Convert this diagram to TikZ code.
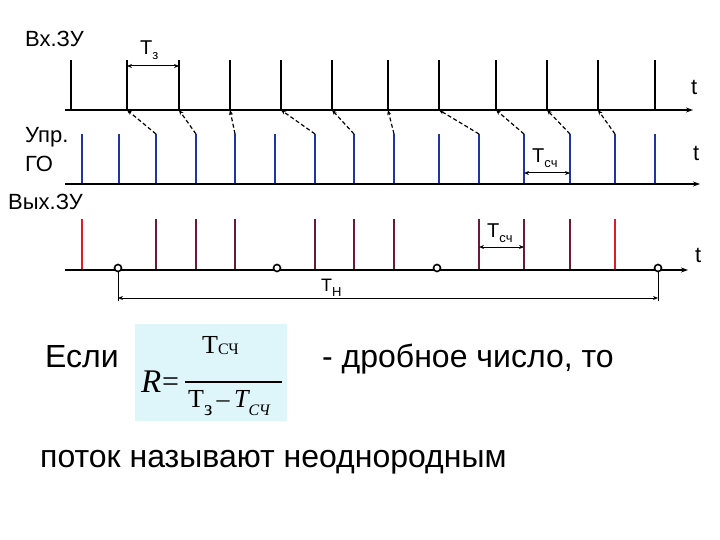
\documentclass[tikz,border=0pt]{standalone}
\usepackage{amsmath}
\usepackage{fontspec}
\setmainfont{Liberation Sans}
\newfontfamily\formfont{Liberation Serif}
\usetikzlibrary{positioning}
\usetikzlibrary{calc}
\usetikzlibrary{arrows.meta}
\definecolor{goblue}{RGB}{30,55,160}
\definecolor{outred}{RGB}{220,30,35}
\definecolor{outdark}{RGB}{105,25,60}
\definecolor{boxcyan}{RGB}{222,246,250}
\newcommand{\lowidx}[1]{\raisebox{-5pt}{\fontsize{13}{13}\selectfont #1}}
\newcommand{\fsub}[2]{\raisebox{#1}{\fontsize{16}{16}\selectfont #2}}

\begin{document}
\begin{tikzpicture}[x=1pt, y=-1pt,
            axis/.style={line width=1.8pt, -{Stealth[length=7pt, width=5pt]}},
            inpulse/.style={line width=1.5pt},
            gopulse/.style={line width=1.5pt, goblue},
            outpulse/.style={line width=1.5pt, outdark},
            link/.style={dash pattern=on 4pt off 2.5pt, line width=1.2pt, -{Stealth[length=5pt, width=4pt]}},
            dim/.style={line width=1pt, {Stealth[length=5pt, width=4pt]}-{Stealth[length=5pt, width=4pt]}},
            lbl/.style={anchor=base west, inner sep=0pt, font=\fontsize{22}{26}\selectfont},
            big/.style={anchor=base west, inner sep=0pt, font=\fontsize{32}{38}\selectfont},
            ftext/.style={anchor=base west, inner sep=0pt, font=\formfont\fontsize{26}{30}\selectfont},
            dot/.style={draw, circle, fill=white, line width=1.6pt, inner sep=0pt, minimum size=7pt},
            fbox/.style={fill=boxcyan, minimum width=152pt, minimum height=97pt, inner sep=0pt}]
            \useasboundingbox (0,0) rectangle (720,540);

            \coordinate (ax1s) at (65,110);
            \coordinate (ax1e) at (693,110);
            \coordinate (ax2s) at (65,184);
            \coordinate (ax2e) at (700,184);
            \coordinate (ax3s) at (65,270);
            \coordinate (ax3e) at (688,270);

            \foreach \x [count=\i] in {71,127,179,230,281,332,388,439,496,547,598,655} {
                \coordinate (a\i) at (\x,110);
                \coordinate (at\i) at (\x,60);
                \draw[inpulse] (a\i) -- (at\i);
            }
            \draw[inpulse, line width=2.4pt] (a2) -- (at2);

            \foreach \x [count=\i] in {82,119,156,196,235,275,315,354,394,439,479,524,570,615,655} {
                \coordinate (b\i) at (\x,184);
                \coordinate (bt\i) at (\x,134);
                \draw[gopulse] (b\i) -- (bt\i);
            }

            \foreach \x [count=\i] in {82,156,196,235,315,354,394,479,524,570,615} {
                \coordinate (o\i) at (\x,270);
                \coordinate (ot\i) at (\x,219);
                \draw[outpulse] (o\i) -- (ot\i);
            }
            \draw[outpulse, outred, line width=2pt] (o1) -- (ot1);
            \draw[outpulse, outred, line width=2pt] (o11) -- (ot11);

            \draw[axis] (ax1s) -- (ax1e);
            \draw[axis] (ax2s) -- (ax2e);
            \draw[axis] (ax3s) -- (ax3e);

            \foreach \f/\t in {3/2,4/3,5/4,7/5,8/6,9/7,11/8,12/9,13/10,14/11}
                \draw[link] (bt\f) -- (a\t);

            \foreach \x [count=\i] in {118,277,437,658}
                \node[dot] (c\i) at (\x,268) {};

            \node[lbl] (inlbl) at (25,47) {Вх.ЗУ};
            \node[lbl] (golbl) at (25,143) {Упр.};
            \node[lbl] (golbl2) at (25,172) {ГО};
            \node[lbl] (outlbl) at (8,210) {Вых.ЗУ};
            \node[lbl] (t1) at (691,95) {t};
            \node[lbl] (t2) at (693,161) {t};
            \node[lbl] (t3) at (695,262) {t};

            \coordinate (tz1) at (127,66);
            \coordinate (tz2) at (179,66);
            \draw[dim] (tz1) -- (tz2);
            \node[lbl, font=\fontsize{20}{24}\selectfont] (tzl) at (140,55) {Т\lowidx{з}};

            \coordinate (tc1) at (524,173);
            \coordinate (tc2) at (570,173);
            \draw[dim] (tc1) -- (tc2);
            \node[lbl, font=\fontsize{20}{24}\selectfont] (tcl) at (532,163) {Т\lowidx{сч}};

            \coordinate (td1) at (479,247);
            \coordinate (td2) at (524,247);
            \draw[dim] (td1) -- (td2);
            \node[lbl, font=\fontsize{20}{24}\selectfont] (tdl) at (487,237) {Т\lowidx{сч}};

            \coordinate (e1) at (118,301);
            \coordinate (e2) at (658,301);
            \draw[line width=1pt] (c1) -- (e1);
            \draw[line width=1pt] (c4) -- (e2);
            \coordinate (tn1) at (118,298);
            \coordinate (tn2) at (658,298);
            \draw[dim] (tn1) -- (tn2);
            \node[lbl, font=\fontsize{18}{20}\selectfont] (tnl) at (321,291) {Т\lowidx{Н}};

            \node[big] (if) at (45,367) {Если};
            \node[fbox] (frm) at (211,372) {};
            \node[ftext, font=\formfont\itshape\fontsize{33}{36}\selectfont] (rr) at (141,392) {R};
            \node[ftext, font=\formfont\fontsize{30}{32}\selectfont] (eq) at (162,391) {=};
            \coordinate (bar1) at (185,382);
            \coordinate (bar2) at (282,382);
            \draw[line width=1.3pt] (bar1) -- (bar2);
            \node[ftext] (num) at (202,353) {Т\fsub{-1pt}{СЧ}};
            \node[ftext] (den) at (188,407) {Т\raisebox{-8pt}{\fontsize{21}{21}\selectfont з}\,–\,\itshape T\fsub{-8pt}{СЧ}};
            \node[big] (then) at (322,367) {- дробное число, то};
            \node[big] (flow) at (40,467) {поток называют неоднородным};
        \end{tikzpicture}
\end{document}
